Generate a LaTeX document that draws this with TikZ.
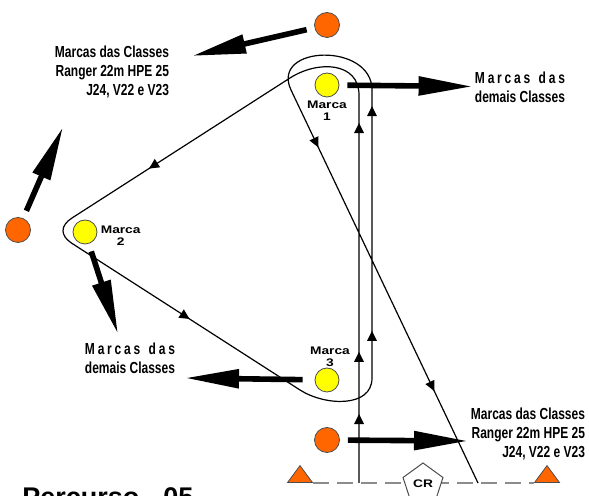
\documentclass[tikz,border=0pt]{standalone}
\usepackage{fontspec}
\usetikzlibrary{arrows.meta,positioning,shapes.geometric}
\setmainfont{Liberation Sans}
\newfontfamily\narrowfont[FakeStretch=0.75]{Liberation Sans}
\newfontfamily\wideface[FakeStretch=1.25]{Liberation Sans}
\definecolor{Buoy}{HTML}{FF6600}
\definecolor{Yolk}{HTML}{FFFF00}
\definecolor{Rim}{HTML}{4D4D4D}
\definecolor{Dash}{HTML}{8C8C8C}
\newlength\pairw
\newcommand\spreadtop[2]{\settowidth\pairw{#2}\makebox[\pairw][s]{#1}\\#2}

\begin{document}
\begin{tikzpicture}[x=0.5pt, y=-0.5pt,
    orangebuoy/.style={circle, draw=Rim, fill=Buoy, minimum size=12.5pt, inner sep=0pt, line width=0.4pt},
    yellowbuoy/.style={circle, draw=Rim, fill=Yolk, minimum size=12pt, inner sep=0pt, line width=0.4pt},
    startbuoy/.style={isosceles triangle, isosceles triangle stretches, shape border rotate=90, minimum width=12.5pt, minimum height=8.5pt, inner sep=0pt, draw=Rim, fill=Buoy, line width=0.4pt},
    marktag/.style={font=\wideface\bfseries\fontsize{5.5}{6}\selectfont, align=center, inner sep=0.5pt},
    classnote/.style={font=\narrowfont\bfseries\fontsize{8}{9.7}\selectfont, inner sep=1pt},
    bigarrow/.style={line width=2.8pt, -{Triangle[length=27pt,width=9pt]}, shorten <=4pt},
    course/.style={line width=0.6pt},
    flow/.style={isosceles triangle, isosceles triangle stretches, fill=black, inner sep=0pt, minimum width=5pt, minimum height=5pt, sloped, allow upside down},
    startline/.style={draw=Dash, line width=1pt, dash pattern=on 8pt off 4pt}]
  \useasboundingbox (0,0) rectangle (589,496);
  \clip (0,0) rectangle (589,496);

  % course
  \draw[course] (359,483)
    -- node[flow,pos=0.16] (a1) {} node[flow,pos=0.32] (a2) {} node[flow,pos=0.91] (a3) {} (359,95)
    .. controls (359,62) and (318,60) .. (290,78)
    -- node[flow,pos=0.62] (a4) {} (72,218)
    .. controls (60,225.7) and (60,235.7) .. (72,243.4)
    -- node[flow,pos=0.49] (a5) {} (300,390)
    .. controls (325,406) and (372,408) .. (372,378)
    -- node[flow,pos=0.14] (a6) {} node[flow,pos=0.92] (a7) {} (372,90)
    .. controls (372,42) and (270,45) .. (291,90)
    -- node[flow,pos=0.13] (a8) {} node[flow,pos=0.75] (a9) {} (478,483);

  % buoys
  \node[orangebuoy] (b1) at (327,25) {};
  \node[orangebuoy] (b2) at (18,230) {};
  \node[orangebuoy] (b3) at (327,440) {};
  \node[yellowbuoy] (m1) at (327,85) {};
  \node[yellowbuoy] (m2) at (85,232) {};
  \node[yellowbuoy] (m3) at (327,380) {};
  \node[marktag, below=1pt of m1] (l1) {Marca\\1};
  \node[marktag, right=1pt of m2, yshift=-2pt] (l2) {Marca\\2};
  \node[marktag, above=0pt of m3, xshift=1.5pt] (l3) {Marca\\3};

  % start line
  \node[startbuoy, anchor=south] (sl) at (300,483) {};
  \node[startbuoy, anchor=south] (sr) at (547,483) {};
  \draw[startline, shorten <=6.5pt, shorten >=6.5pt] (sl.south) -- (sr.south);
  \node[regular polygon, regular polygon sides=5, draw=Rim, fill=white, minimum size=21pt, line width=0.5pt, marktag] (cr) at (423,484) {CR};

  % labels
  \node[classnote, align=right] (t1) at (112,72) {Marcas das Classes\\Ranger 22m HPE 25\\J24, V22 e V23};
  \node[classnote, align=center] (t2) at (520,87) {\spreadtop{M\hfill a\hfill r\hfill c\hfill a\hfill s\hfill\hfill\hfill d\hfill a\hfill s}{demais Classes}};
  \node[classnote, align=center] (t3) at (130,358) {\spreadtop{M\hfill a\hfill r\hfill c\hfill a\hfill s\hfill\hfill\hfill d\hfill a\hfill s}{demais Classes}};
  \node[classnote, align=right] (t4) at (528,434) {Marcas das Classes\\Ranger 22m HPE 25\\J24, V22 e V23};
  \node[font=\bfseries\fontsize{13.5}{16}\selectfont, anchor=north west, inner sep=0pt] (title) at (22,487) {Percurso - 05};

  % arrows to the classes
  \coordinate (tipA) at (192,56);
  \coordinate (tipC) at (63,127);
  \coordinate (tipD) at (118,334);
  \coordinate (tipE) at (185,378);
  \coordinate (tipF) at (468,441);
  \draw[bigarrow] (b1) -- (tipA);
  \draw[bigarrow] (m1) -- (t2);
  \draw[bigarrow] (b2) -- (tipC);
  \draw[bigarrow] (m2) -- (tipD);
  \draw[bigarrow, shorten <=6pt] (m3) -- (tipE);
  \draw[bigarrow] (b3) -- (tipF);
\end{tikzpicture}
\end{document}
